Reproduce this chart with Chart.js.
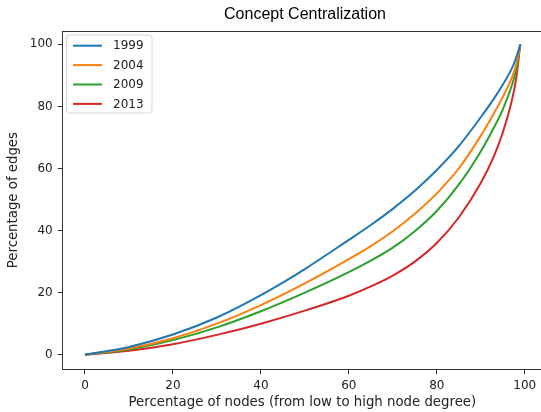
<!DOCTYPE html>
<html>
<head>
<meta charset="utf-8">
<script src="https://cdn.jsdelivr.net/npm/chart.js@4.4.1/dist/chart.umd.min.js"></script>
<style>
  html, body { margin: 0; padding: 0; background: #fff; overflow: hidden; }
  canvas { display: block; }
</style>
</head>
<body>
<canvas id="grafico" width="542" height="412"></canvas>
<script>
// Dados (percentual de nós no eixo X)
var nos = [0, 10, 20, 30, 40, 50, 60, 65, 70, 75, 80, 85, 90, 93, 95, 97, 98, 99];

var arestas1999 = [0, 2.5, 6.5, 12.0, 19.2, 27.6, 37.0, 41.8, 47.0, 52.8, 59.5, 67.2, 76.5, 82.5, 87.0, 92.0, 95.5, 100];
var arestas2004 = [0, 2.0, 5.3, 10.0, 16.0, 23.0, 30.8, 35.0, 39.8, 45.4, 52.0, 60.0, 70.5, 77.8, 83.0, 89.0, 93.2, 100];
var arestas2009 = [0, 1.7, 4.7, 8.8, 14.0, 20.0, 26.6, 30.3, 34.5, 39.8, 46.3, 54.8, 65.5, 73.2, 79.0, 86.5, 91.5, 100];
var arestas2013 = [0, 1.3, 3.4, 6.4, 10.0, 14.2, 19.0, 22.0, 25.5, 30.0, 36.0, 44.2, 55.3, 64.0, 71.5, 81.5, 88.5, 100];

var anos = ['1999', '2004', '2009', '2013'];
var cores = ['#1f77b4', '#ff7f0e', '#2ca02c', '#d62728'];

var ticksX = [0, 20, 40, 60, 80, 100];
var ticksY = [0, 20, 40, 60, 80, 100];

var corEixo = '#333333';
var corTexto = '#222222';

function pontos(valores) {
    return nos.map(function (x, i) {
        return { x: x, y: valores[i] };
    });
}

var series = [arestas1999, arestas2004, arestas2009, arestas2013];

var datasets = series.map(function (valores, i) {
    return {
        label: anos[i],
        data: pontos(valores),
        borderColor: cores[i],
        backgroundColor: cores[i],
        borderWidth: 2,
        pointRadius: 0,
        fill: false,
        cubicInterpolationMode: 'monotone'
    };
});

// Título, borda superior e legenda dentro do gráfico
var extras = {
    id: 'extras',
    afterDraw: function (chart) {
        var ctx = chart.ctx;
        var area = chart.chartArea;
        ctx.save();

        // borda superior
        ctx.strokeStyle = corEixo;
        ctx.lineWidth = 1;
        ctx.beginPath();
        ctx.moveTo(area.left, area.top + 0.5);
        ctx.lineTo(area.right, area.top + 0.5);
        ctx.stroke();

        // título
        ctx.fillStyle = '#000';
        ctx.font = '16px "Liberation Sans", Arial, sans-serif';
        ctx.textAlign = 'center';
        ctx.textBaseline = 'alphabetic';
        ctx.fillText('Concept Centralization', 305, 19);

        // legenda
        var x0 = 66.5, y0 = 35, w = 85.5, h = 78;
        ctx.fillStyle = 'rgba(255,255,255,0.8)';
        ctx.strokeStyle = '#d6d6d6';
        ctx.beginPath();
        ctx.roundRect(x0, y0, w, h, 3);
        ctx.fill();
        ctx.stroke();

        ctx.font = '12px "DejaVu Sans", sans-serif';
        ctx.textAlign = 'left';
        ctx.textBaseline = 'middle';
        chart.data.datasets.forEach(function (ds, i) {
            var y = 45.7 + i * 19.4;
            ctx.strokeStyle = ds.borderColor;
            ctx.lineWidth = 2;
            ctx.beginPath();
            ctx.moveTo(73, y);
            ctx.lineTo(102, y);
            ctx.stroke();
            ctx.fillStyle = corTexto;
            ctx.fillText(ds.label, 113, y + 0.5);
        });

        ctx.restore();
    }
};

var ctx = document.getElementById('grafico').getContext('2d');
var myChart = new Chart(ctx, {
    type: 'line',
    data: { datasets: datasets },
    options: {
        responsive: false,
        animation: false,
        devicePixelRatio: 1,
        layout: { padding: { top: 31, left: 0, right: 0, bottom: 0 } },
        plugins: {
            legend: { display: false },
            title: { display: false },
            tooltip: { enabled: false }
        },
        scales: {
            x: {
                type: 'linear',
                min: -5.07,
                max: 103.93,
                afterBuildTicks: function (scale) {
                    scale.ticks = ticksX.map(function (v) { return { value: v }; });
                },
                afterFit: function (scale) { scale.height = 42.7; },
                grid: {
                    display: true,
                    drawOnChartArea: false,
                    drawTicks: true,
                    tickLength: 5,
                    color: corEixo
                },
                border: { display: true, color: corEixo, width: 1 },
                ticks: {
                    color: corTexto,
                    padding: 4,
                    maxRotation: 0,
                    font: { family: 'DejaVu Sans', size: 12 }
                },
                title: {
                    display: true,
                    text: 'Percentage of nodes (from low to high node degree)',
                    color: corTexto,
                    font: { family: 'DejaVu Sans', size: 13.3 },
                    padding: { top: 0, bottom: 1 }
                }
            },
            y: {
                min: -4.7,
                max: 104.3,
                afterBuildTicks: function (scale) {
                    scale.ticks = ticksY.map(function (v) { return { value: v }; });
                },
                afterFit: function (scale) { scale.width = 62.7; },
                grid: {
                    display: true,
                    drawOnChartArea: false,
                    drawTicks: true,
                    tickLength: 5,
                    color: corEixo
                },
                border: { display: true, color: corEixo, width: 1 },
                ticks: {
                    color: corTexto,
                    padding: 5,
                    font: { family: 'DejaVu Sans', size: 12 }
                },
                title: {
                    display: true,
                    text: 'Percentage of edges',
                    color: corTexto,
                    font: { family: 'DejaVu Sans', size: 13.3 },
                    padding: { top: 6, bottom: 0 }
                }
            }
        }
    },
    plugins: [extras]
});
</script>
</body>
</html>
